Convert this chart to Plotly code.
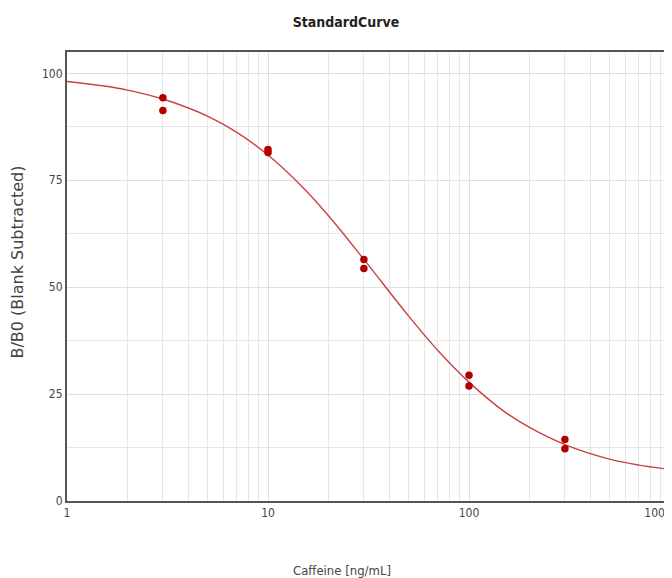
import plotly.graph_objects as go

# Measured replicate points
conc = [3, 3, 10, 10, 30, 30, 100, 100, 300, 300]
bb0 = [94.3, 91.3, 82.2, 81.5, 56.5, 54.4, 29.4, 26.9, 14.4, 12.2]

# Fitted curve values
curve_x = [1, 1.5, 2, 3, 5, 7, 10, 15, 20, 30, 50, 70, 100, 150, 200, 300, 500, 700, 1000]
curve_y = [98.1, 97.1, 96.1, 94.0, 90.0, 86.2, 80.9, 73.2, 66.7, 56.5, 43.3, 35.2, 27.8, 20.9, 17.2, 13.2, 9.8, 8.4, 7.4]

x_tickvals = [1, 10, 100, 1000]
x_ticktext = ["1", "10", "100", "1000" + "\u00a0" * 7]
y_tickvals = [0, 25, 50, 75, 100]

narrow = "DejaVu Sans Condensed, Liberation Sans Narrow, sans-serif"
wide = "DejaVu Sans, Verdana, sans-serif"

W, H = 664, 570
L, R, T, B = 59, 2, 44, 77
pw, ph = W - L - R, H - T - B

fig = go.Figure()
fig.add_trace(go.Scatter(
    x=curve_x, y=curve_y, mode="lines", line=dict(color="#cc4040", width=1.4, shape="spline"),
    showlegend=False, hoverinfo="skip"))
fig.add_trace(go.Scatter(
    x=conc, y=bb0, mode="markers",
    marker=dict(color="#b00000", size=7.5, line=dict(width=0)),
    showlegend=False))

fig.update_layout(
    width=W, height=H,
    paper_bgcolor="white", plot_bgcolor="white",
    margin=dict(l=L, r=R, t=T, b=B, autoexpand=False),
    title=dict(text="<b>StandardCurve</b>", x=338 / W, xanchor="center", y=1 - 14 / H, yanchor="middle",
               font=dict(family=narrow, size=14, color="#222")),
    font=dict(family=narrow, size=12, color="#444"),
)
fig.add_annotation(text="Caffeine [ng/mL]", xref="paper", yref="paper",
                   x=(334 - L) / pw, y=-(562 - (H - B)) / ph, xanchor="center", yanchor="middle",
                   showarrow=False, font=dict(family=narrow, size=13, color="#444"))
fig.add_annotation(text="B/B0 (Blank Subtracted)", xref="paper", yref="paper", textangle=-90,
                   x=(9 - L) / pw, y=((H - B) - 254.5) / ph, xanchor="center", yanchor="middle",
                   showarrow=False, font=dict(family=wide, size=16, color="#444"))

fig.update_xaxes(
    type="log", range=[0, 3], tickvals=x_tickvals, ticktext=x_ticktext,
    showgrid=True, gridcolor="#dedede", gridwidth=1, automargin=False,
    minor=dict(dtick="D1", showgrid=True, gridcolor="#e6e6e6", gridwidth=1, ticks=""),
    showline=True, linecolor="#555", linewidth=2, mirror=True,
    ticks="", zeroline=False, ticklabeloverflow="allow",
    tickfont=dict(family=narrow, size=12, color="#444"),
)
fig.update_yaxes(
    range=[0, 105], tickvals=y_tickvals, automargin=False,
    showgrid=True, gridcolor="#dedede", gridwidth=1,
    minor=dict(dtick=12.5, showgrid=True, gridcolor="#e6e6e6", gridwidth=1, ticks=""),
    showline=True, linecolor="#555", linewidth=2, mirror=True,
    ticks="", zeroline=False,
    tickfont=dict(family=narrow, size=12, color="#444"),
)

fig.write_html("out.html")
